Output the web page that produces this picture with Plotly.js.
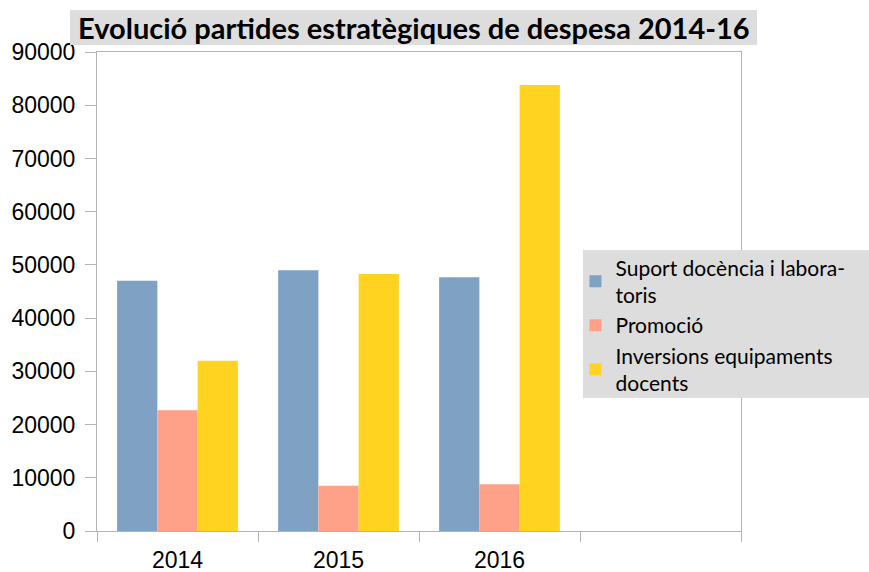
<!DOCTYPE html>
<html>
<head>
<meta charset="utf-8">
<script src="https://cdn.plot.ly/plotly-3.0.1.min.js"></script>
<style>html,body{margin:0;padding:0;background:#fff;}#chart{width:869px;height:572px;}</style>
</head>
<body>
<div id="chart"></div>
<script>
const categories = ['2014', '2015', '2016', ' '];
const years = ['2014', '2015', '2016'];
const suport = [47000, 49000, 47700];
const promocio = [22700, 8500, 8800];
const inversions = [32000, 48300, 83800];
const seriesNames = ['Suport docència i labora-<br>toris', 'Promoció', 'Inversions equipaments<br>docents'];
const seriesColors = ['#7fa2c4', '#ffa088', '#ffd320'];
const yTicks = [0, 10000, 20000, 30000, 40000, 50000, 60000, 70000, 80000, 90000];
const titleText = 'Evolució partides estratègiques de despesa 2014-16';

const values = [suport, promocio, inversions];
const traces = values.map((v, i) => ({
  type: 'bar',
  x: years,
  y: v,
  name: seriesNames[i],
  marker: {color: seriesColors[i], line: {width: 0}},
  hoverinfo: 'x+y'
}));

const grey = '#b3b3b3';
const layout = {
  width: 869, height: 572,
  margin: {l: 97, r: 128, t: 52, b: 41},
  paper_bgcolor: '#ffffff',
  plot_bgcolor: 'rgba(0,0,0,0)',
  barmode: 'group',
  bargap: 0.25,
  bargroupgap: 0,
  showlegend: true,
  font: {family: 'Liberation Sans, Arial, sans-serif', color: '#000'},
  xaxis: {
    type: 'category',
    categoryorder: 'array',
    categoryarray: categories,
    range: [-0.5, 3.5],
    tickson: 'boundaries',
    ticks: 'outside', ticklen: 10, tickcolor: grey, tickwidth: 1,
    showline: true, linecolor: grey, linewidth: 1, mirror: true,
    showgrid: false, zeroline: false,
    tickfont: {size: 23, family: 'Liberation Sans, Arial, sans-serif'},
    ticklabelstandoff: 8,
    fixedrange: true
  },
  yaxis: {
    range: [0, 90000],
    tickmode: 'array',
    tickvals: yTicks,
    ticktext: yTicks.map(String),
    ticks: 'outside', ticklen: 11, tickcolor: grey, tickwidth: 1,
    showline: true, linecolor: grey, linewidth: 1, mirror: true,
    showgrid: false, zeroline: false,
    tickfont: {size: 23, family: 'Liberation Sans, Arial, sans-serif'},
    ticklabelstandoff: 5,
    fixedrange: true
  },
  legend: {
    x: 0.743, xanchor: 'left',
    y: 0.592, yanchor: 'top',
    bgcolor: 'rgba(0,0,0,0)',
    borderwidth: 0,
    font: {size: 21, family: 'Lato, Carlito, sans-serif', color: '#000'},
    traceorder: 'normal',
    itemwidth: 30,
    tracegroupgap: 0
  },
  shapes: [
    {type: 'rect', xref: 'paper', yref: 'paper', layer: 'above',
     x0: (583 - 97) / 644, x1: (869 - 97) / 644,
     y0: (531 - 398) / 479, y1: (531 - 250) / 479,
     fillcolor: '#dddddd', line: {width: 0}},
    {type: 'rect', xref: 'paper', yref: 'paper', layer: 'above',
     x0: (70 - 97) / 644, x1: (757 - 97) / 644,
     y0: (531 - 45) / 479, y1: (531 - 10) / 479,
     fillcolor: '#dddddd', line: {width: 0}}
  ],
  annotations: [
    {text: '<b>' + titleText + '</b>', xref: 'paper', yref: 'paper',
     x: (413.5 - 97) / 644, y: (531 - 28) / 479,
     xanchor: 'center', yanchor: 'middle', showarrow: false,
     font: {size: 29, family: 'Lato, Carlito, sans-serif', color: '#000'}}
  ]
};

Plotly.newPlot('chart', traces, layout, {displayModeBar: false, staticPlot: true});
</script>
</body>
</html>
